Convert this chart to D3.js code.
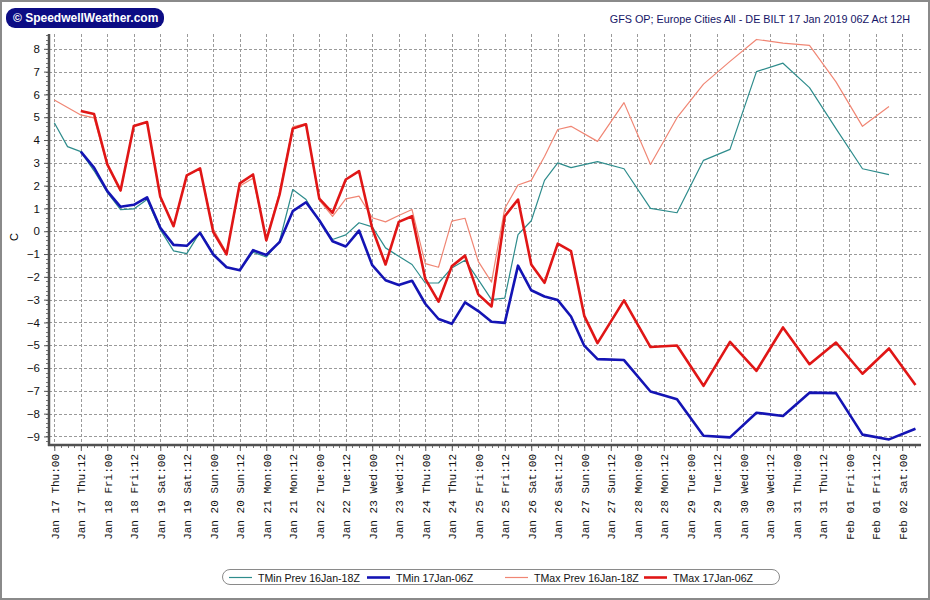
<!DOCTYPE html>
<html lang="en">
<head>
  <meta charset="utf-8">
  <title>GFS OP - DE BILT 17 Jan 2019 06Z</title>
  <script src="https://d3js.org/d3.v7.min.js"></script>
  <style>
    body { margin: 0; background: #fff; }
    text { font-family: "Liberation Sans", Arial, sans-serif; }
  </style>
</head>
<body>
  <div id="chart"></div>
  <script>
    // x labels, one every 12 hours from Jan 17 00Z
    var tickLabels = ["Jan 17 Thu:00", "Jan 17 Thu:12", "Jan 18 Fri:00", "Jan 18 Fri:12",
      "Jan 19 Sat:00", "Jan 19 Sat:12", "Jan 20 Sun:00", "Jan 20 Sun:12", "Jan 21 Mon:00",
      "Jan 21 Mon:12", "Jan 22 Tue:00", "Jan 22 Tue:12", "Jan 23 Wed:00", "Jan 23 Wed:12",
      "Jan 24 Thu:00", "Jan 24 Thu:12", "Jan 25 Fri:00", "Jan 25 Fri:12", "Jan 26 Sat:00",
      "Jan 26 Sat:12", "Jan 27 Sun:00", "Jan 27 Sun:12", "Jan 28 Mon:00", "Jan 28 Mon:12",
      "Jan 29 Tue:00", "Jan 29 Tue:12", "Jan 30 Wed:00", "Jan 30 Wed:12", "Jan 31 Thu:00",
      "Jan 31 Thu:12", "Feb 01 Fri:00", "Feb 01 Fri:12", "Feb 02 Sat:00"];
    var tickHours = [0, 12, 24, 36, 48, 60, 72, 84, 96, 108, 120, 132, 144, 156, 168, 180, 192,
      204, 216, 228, 240, 252, 264, 276, 288, 300, 312, 324, 336, 348, 360, 372, 384];
    var yTicks = [-9, -8, -7, -6, -5, -4, -3, -2, -1, 0, 1, 2, 3, 4, 5, 6, 7, 8];

    // hours after Jan 17 00Z, previous run (16Jan-18Z)
    var hoursPrev = [0, 6, 12, 18, 24, 30, 36, 42, 48, 54, 60, 66, 72, 78, 84, 90, 96, 102, 108,
      114, 120, 126, 132, 138, 144, 150, 156, 162, 168, 174, 180, 186, 192, 198, 204, 210, 216,
      222, 228, 234, 246, 258, 270, 282, 294, 306, 318, 330, 342, 354, 366, 378];
    // hours after Jan 17 00Z, current run (17Jan-06Z)
    var hoursCur = [12, 18, 24, 30, 36, 42, 48, 54, 60, 66, 72, 78, 84, 90, 96, 102, 108, 114,
      120, 126, 132, 138, 144, 150, 156, 162, 168, 174, 180, 186, 192, 198, 204, 210, 216, 222,
      228, 234, 240, 246, 258, 270, 282, 294, 306, 318, 330, 342, 354, 366, 378, 390];

    var tminPrev = [4.76, 3.71, 3.49, 2.65, 1.7, 0.95, 0.98, 1.39, 0.07, -0.86,
      -0.98, -0.04, -0.98, -1.58, -1.7, -0.92, -1.13, -0.44, 1.83, 1.39,
      0.44, -0.36, -0.16, 0.37, 0.19, -0.73, -1.1, -1.46, -2.27, -2.27,
      -1.61, -1.27, -2.12, -3.0, -2.93, -0.15, 0.46, 2.23, 3.0, 2.79,
      3.05, 2.74, 1.0, 0.81, 3.11, 3.59, 7.0, 7.37, 6.3, 4.5, 2.74, 2.48];
    var tminCur = [3.49, 2.79, 1.76, 1.07, 1.16, 1.49, 0.15, -0.6, -0.64, -0.07,
      -1.02, -1.58, -1.71, -0.83, -1.04, -0.48, 0.88, 1.27, 0.48, -0.44,
      -0.67, 0.03, -1.49, -2.15, -2.36, -2.17, -3.18, -3.85, -4.06, -3.12,
      -3.5, -3.97, -4.02, -1.51, -2.59, -2.86, -3.02, -3.74, -5.02, -5.61,
      -5.65, -7.03, -7.37, -8.97, -9.04, -7.96, -8.1, -7.08, -7.1, -8.92, -9.13, -8.66];
    var tmaxPrev = [5.76, 5.43, 5.1, 4.97, 2.9, 1.75, 4.6, 4.8, 1.5, 0.25,
      2.45, 2.74, 0.1, -0.95, 1.98, 2.32, -0.35, 1.7, 4.58, 4.72,
      1.36, 0.65, 1.42, 1.54, 0.59, 0.41, 0.69, 0.95, -1.42, -1.58,
      0.44, 0.57, -1.32, -2.23, 1.0, 2.03, 2.23, 3.28, 4.46, 4.6,
      3.94, 5.64, 2.93, 4.98, 6.45, 7.45, 8.41, 8.25, 8.15, 6.55, 4.6, 5.47];
    var tmaxCur = [5.27, 5.14, 2.93, 1.79, 4.62, 4.79, 1.51, 0.22, 2.45, 2.76,
      -0.04, -1.01, 2.1, 2.49, -0.4, 1.6, 4.5, 4.69, 1.43, 0.81,
      2.27, 2.64, 0.12, -1.46, 0.41, 0.66, -2.09, -3.09, -1.54, -1.07,
      -2.77, -3.3, 0.66, 1.39, -1.46, -2.26, -0.54, -0.87, -3.71, -4.91,
      -3.03, -5.08, -5.01, -6.78, -4.85, -6.12, -4.22, -5.83, -4.88, -6.25, -5.14, -6.74];

    var seriesNames = ["TMin Prev 16Jan-18Z", "TMin 17Jan-06Z", "TMax Prev 16Jan-18Z", "TMax 17Jan-06Z"];
    var seriesColors = ["#2e8c8c", "#1414b4", "#f08674", "#e01616"];
    var seriesWidths = [1.2, 2.6, 1.2, 2.6];
    var seriesHours = [hoursPrev, hoursCur, hoursPrev, hoursCur];
    var seriesValues = [tminPrev, tminCur, tmaxPrev, tmaxCur];

    var W = 930, H = 600;
    // plot box (window.top is read-only, so no plain "top" here)
    var plotL = 49, plotR = 921, plotT = 34, plotB = 445;

    var svg = d3.select("#chart").append("svg")
      .attr("width", W)
      .attr("height", H);

    svg.append("rect")
      .attr("x", 1).attr("y", 1)
      .attr("width", W - 2).attr("height", H - 2)
      .attr("fill", "#fff")
      .attr("stroke", "#8a8a8a")
      .attr("stroke-width", 2);

    var x = d3.scaleLinear().domain([-2.4, 392.5]).range([plotL, plotR]);
    var y = d3.scaleLinear().domain([-9.375, 8.65]).range([plotB, plotT]);

    // grid
    var grid = svg.append("g")
      .attr("stroke", "#9a9a9a")
      .attr("stroke-width", 1)
      .attr("stroke-dasharray", "3,2");
    grid.selectAll(".vg").data(tickHours).enter().append("line")
      .attr("x1", function (d) { return Math.round(x(d)) + 0.5; })
      .attr("x2", function (d) { return Math.round(x(d)) + 0.5; })
      .attr("y1", plotT).attr("y2", plotB);
    grid.selectAll(".hg").data(yTicks).enter().append("line")
      .attr("x1", plotL).attr("x2", plotR)
      .attr("y1", function (d) { return Math.round(y(d)) + 0.5; })
      .attr("y2", function (d) { return Math.round(y(d)) + 0.5; });

    // minor ticks
    var minorX = d3.range(0, 393, 3);
    svg.append("g").selectAll("line").data(minorX).enter().append("line")
      .attr("x1", function (d) { return Math.round(x(d)) + 0.5; })
      .attr("x2", function (d) { return Math.round(x(d)) + 0.5; })
      .attr("y1", plotB).attr("y2", plotB + 3)
      .attr("stroke", "#777");
    var minorY = d3.range(-9.2, 8.61, 0.2);
    svg.append("g").selectAll("line").data(minorY).enter().append("line")
      .attr("x1", plotL - 3).attr("x2", plotL)
      .attr("y1", function (d) { return Math.round(y(d)) + 0.5; })
      .attr("y2", function (d) { return Math.round(y(d)) + 0.5; })
      .attr("stroke", "#777");

    // x axis
    var xAxis = svg.append("g")
      .attr("transform", "translate(0," + plotB + ")")
      .call(d3.axisBottom(x)
        .tickValues(tickHours)
        .tickFormat(function (d, i) { return tickLabels[i]; })
        .tickSize(6));
    xAxis.select(".domain").remove();
    xAxis.selectAll(".tick line").attr("stroke", "#555");
    xAxis.selectAll(".tick text")
      .attr("transform", "rotate(-90)")
      .attr("x", -9).attr("y", 0).attr("dy", "0.35em")
      .style("text-anchor", "end")
      .style("font-family", "'Liberation Mono', 'Courier New', monospace")
      .style("font-size", "11px")
      .attr("fill", "#111");

    // y axis
    var yAxis = svg.append("g")
      .attr("transform", "translate(" + plotL + ",0)")
      .call(d3.axisLeft(y).tickValues(yTicks).tickSize(5));
    yAxis.select(".domain").remove();
    yAxis.selectAll(".tick line").attr("stroke", "#555");
    yAxis.selectAll(".tick text")
      .attr("x", -9)
      .style("font-family", "'Liberation Sans', Arial, sans-serif")
      .style("font-size", "11.5px")
      .attr("fill", "#111");

    // axis lines
    svg.append("line")
      .attr("x1", plotL).attr("x2", plotL).attr("y1", plotT).attr("y2", plotB + 1)
      .attr("stroke", "#505050").attr("stroke-width", 2.5);
    svg.append("line")
      .attr("x1", plotL - 1).attr("x2", plotR).attr("y1", plotB).attr("y2", plotB)
      .attr("stroke", "#505050").attr("stroke-width", 2.5);

    svg.append("text")
      .attr("transform", "translate(18,237) rotate(-90)")
      .attr("text-anchor", "middle")
      .style("font-size", "11px")
      .text("C");

    // series
    var line = d3.line()
      .x(function (d) { return x(d[0]); })
      .y(function (d) { return y(d[1]); });
    seriesNames.forEach(function (name, i) {
      var pts = seriesHours[i].map(function (h, j) { return [h, seriesValues[i][j]]; });
      svg.append("path")
        .datum(pts)
        .attr("d", line)
        .attr("fill", "none")
        .attr("stroke", seriesColors[i])
        .attr("stroke-width", seriesWidths[i])
        .attr("stroke-linejoin", "round");
    });

    // logo
    svg.append("rect")
      .attr("x", 6).attr("y", 8)
      .attr("width", 158).attr("height", 20)
      .attr("rx", 9)
      .attr("fill", "#0c0c84");
    svg.append("text")
      .attr("x", 13).attr("y", 22)
      .attr("fill", "#fff")
      .style("font-weight", "bold")
      .style("font-size", "12px")
      .text("\u00a9 SpeedwellWeather.com");

    // title
    svg.append("text")
      .attr("x", 910).attr("y", 23)
      .attr("text-anchor", "end")
      .attr("fill", "#141466")
      .style("font-size", "10.8px")
      .text("GFS OP; Europe Cities All - DE BILT 17 Jan 2019 06Z Act 12H");

    // legend
    var legendX = [229, 367, 505, 644];
    svg.append("rect")
      .attr("x", 222.5).attr("y", 569.5)
      .attr("width", 557).attr("height", 15)
      .attr("rx", 7.5)
      .attr("fill", "#fff")
      .attr("stroke", "#8a8a8a");
    seriesNames.forEach(function (name, i) {
      svg.append("line")
        .attr("x1", legendX[i]).attr("x2", legendX[i] + 23)
        .attr("y1", 577.5).attr("y2", 577.5)
        .attr("stroke", seriesColors[i])
        .attr("stroke-width", seriesWidths[i]);
      svg.append("text")
        .attr("x", legendX[i] + 29).attr("y", 581.5)
        .attr("fill", "#111")
        .style("font-size", "10.6px")
        .text(name);
    });
  </script>
</body>
</html>
